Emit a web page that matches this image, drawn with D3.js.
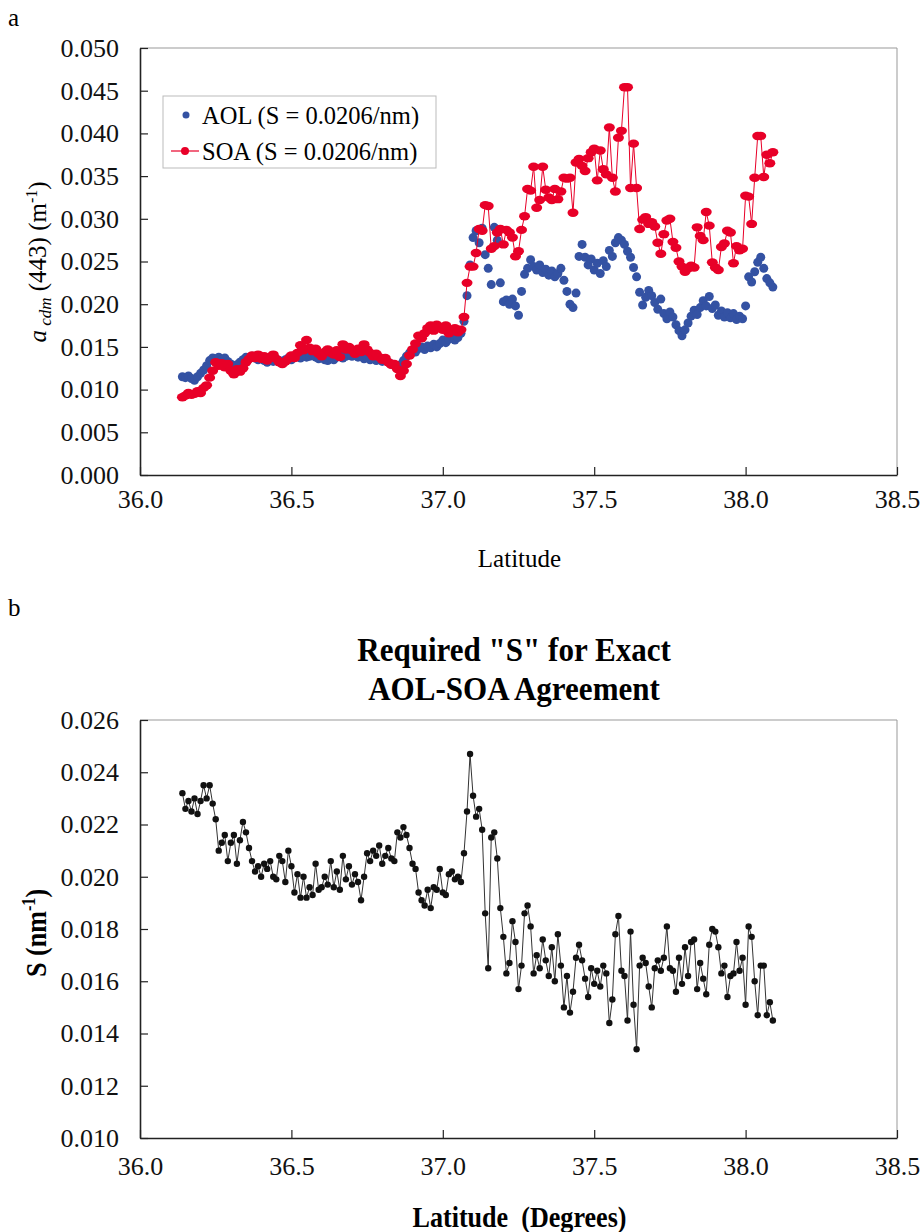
<!DOCTYPE html>
<html>
<head>
<meta charset="utf-8">
<script src="https://cdn.jsdelivr.net/npm/d3@7"></script>
<style>
   body { margin: 0; background: #fff; }
   svg, svg text { font-family: 'Liberation Serif', 'Times New Roman', serif; }
</style>
</head>
<body>
<script>
// latitude of each sample (degrees N)
const latitude = [
   36.14,36.15,36.16,36.17,36.18,36.19,36.20,36.21,36.22,36.23,
   36.24,36.25,36.26,36.27,36.28,36.29,36.30,36.31,36.32,36.33,
   36.34,36.35,36.36,36.37,36.38,36.39,36.40,36.41,36.42,36.43,
   36.44,36.45,36.46,36.47,36.48,36.49,36.50,36.51,36.52,36.53,
   36.54,36.55,36.56,36.57,36.58,36.59,36.60,36.61,36.62,36.63,
   36.64,36.65,36.66,36.67,36.68,36.69,36.70,36.71,36.72,36.73,
   36.74,36.75,36.76,36.77,36.78,36.79,36.80,36.81,36.82,36.83,
   36.84,36.85,36.86,36.87,36.88,36.89,36.90,36.91,36.92,36.93,
   36.94,36.95,36.96,36.97,36.98,36.99,37.00,37.01,37.02,37.03,
   37.04,37.05,37.06,37.07,37.08,37.09,37.10,37.11,37.12,37.13,
   37.14,37.15,37.16,37.17,37.18,37.19,37.20,37.21,37.22,37.23,
   37.24,37.25,37.26,37.27,37.28,37.29,37.30,37.31,37.32,37.33,
   37.34,37.35,37.36,37.37,37.38,37.39,37.40,37.41,37.42,37.43,
   37.44,37.45,37.46,37.47,37.48,37.49,37.50,37.51,37.52,37.53,
   37.54,37.55,37.56,37.57,37.58,37.59,37.60,37.61,37.62,37.63,
   37.64,37.65,37.66,37.67,37.68,37.69,37.70,37.71,37.72,37.73,
   37.74,37.75,37.76,37.77,37.78,37.79,37.80,37.81,37.82,37.83,
   37.84,37.85,37.86,37.87,37.88,37.89,37.90,37.91,37.92,37.93,
   37.94,37.95,37.96,37.97,37.98,37.99,38.00,38.01,38.02,38.03,
   38.04,38.05,38.06,38.07,38.08,38.09
];

// a_cdm(443) from AOL, in 1e-3 m^-1
const aolValues = [
   11.5,11.4,11.6,11.3,11.1,11.5,11.9,12.3,12.8,13.4,
   13.7,13.6,13.8,13.5,13.7,13.3,13.0,12.8,12.9,13.2,
   13.5,13.8,13.6,13.9,13.7,13.5,13.7,13.4,13.2,13.4,
   13.3,13.6,13.4,13.2,13.5,13.7,13.5,13.8,13.9,13.7,
   14.0,13.8,13.9,14.1,13.8,13.6,13.9,13.5,13.4,13.7,
   13.5,13.8,14.0,13.7,13.9,14.2,13.9,14.1,13.8,14.0,
   13.6,13.8,13.5,13.7,13.4,13.6,13.3,13.5,13.2,13.0,
   12.8,12.6,12.9,13.4,13.9,14.3,14.6,14.4,14.8,15.0,
   14.7,15.1,14.9,15.3,15.0,15.4,15.8,15.5,15.9,16.2,
   15.8,16.1,16.6,18.0,21.0,24.6,27.8,28.6,27.2,28.9,
   25.8,24.2,22.3,29.0,27.5,22.5,20.3,20.5,20.0,20.6,
   19.8,18.7,21.5,23.5,24.2,25.2,24.4,24.0,24.6,23.7,
   24.1,23.4,23.9,23.2,23.6,24.2,22.8,21.5,20.0,19.6,
   21.3,25.6,27.0,25.5,24.6,25.3,24.0,24.8,23.6,25.1,
   24.4,26.3,25.6,27.2,27.8,27.5,27.0,26.2,25.5,24.3,
   23.2,21.4,19.9,20.8,21.6,21.0,20.2,19.4,20.6,18.9,
   18.3,19.1,18.5,17.6,16.9,16.3,17.0,17.8,18.6,19.3,
   18.8,19.6,20.4,19.8,20.9,19.5,19.9,18.7,19.2,18.5,
   19.0,18.4,18.9,18.2,18.6,18.3,19.8,23.2,22.6,23.8,
   24.9,25.5,24.2,23.0,22.5,22.0
];

// a_cdm(443) from SOA, in 1e-3 m^-1
const soaValues = [
   9.1,9.3,9.6,9.4,9.5,9.8,9.6,10.2,10.5,11.4,
   12.2,13.2,12.8,13.1,12.6,13.0,12.2,11.8,12.4,12.1,
   12.5,13.2,13.6,14.0,13.7,14.1,13.6,13.9,13.4,13.8,
   14.1,13.6,13.2,13.0,13.3,13.6,14.0,13.7,14.3,15.2,
   14.6,15.8,14.9,14.5,14.8,14.2,13.9,14.4,14.7,14.3,
   14.1,14.6,13.8,15.3,14.7,15.0,14.6,14.2,14.8,14.4,
   15.3,14.7,14.3,13.9,14.2,13.8,13.5,13.7,13.2,12.9,
   13.0,12.4,11.6,12.2,13.0,14.0,14.7,15.4,16.3,16.0,
   16.6,17.2,17.5,16.9,17.6,17.3,17.0,17.5,16.6,16.9,
   17.2,16.7,17.0,18.5,22.5,24.4,24.4,26.0,28.8,28.6,
   31.6,31.5,26.5,26.8,28.4,28.8,27.0,28.7,28.4,27.8,
   25.6,26.2,28.7,30.3,33.5,33.3,36.1,31.3,32.2,36.1,
   33.4,32.5,32.2,33.5,32.3,33.2,34.8,34.7,34.8,30.7,
   36.6,37.0,36.2,35.6,37.1,37.8,38.2,34.5,38.0,35.8,
   35.2,40.7,34.8,33.2,39.5,40.3,45.4,45.4,33.6,38.8,
   33.6,28.8,29.9,30.2,29.4,29.6,29.1,27.2,25.9,28.2,
   29.8,30.0,27.3,26.6,25.0,24.4,23.8,24.2,24.5,24.3,
   29.0,28.0,27.5,30.8,29.2,24.9,24.3,24.0,26.7,27.1,
   28.6,28.4,24.8,26.8,26.3,26.5,32.7,32.6,29.4,34.8,
   39.7,39.7,34.9,37.5,36.5,37.8
];

// required S, in 1e-3 nm^-1
const requiredS = [
   23.2,22.6,22.9,22.5,23.0,22.4,22.9,23.5,23.0,23.5,
   22.8,22.2,21.0,21.3,21.6,20.6,21.3,21.6,20.5,21.4,
   22.1,21.7,21.1,20.6,20.2,20.4,20.0,20.5,20.3,20.6,
   20.0,19.9,20.8,20.6,19.8,21.0,20.4,19.4,20.1,19.2,
   20.0,19.2,19.6,19.3,20.5,19.5,19.6,20.0,19.7,20.6,
   19.6,20.2,19.5,20.8,19.9,20.4,19.7,20.1,19.8,19.1,
   20.0,20.9,20.6,21.0,20.8,21.2,20.5,20.8,21.1,20.7,
   20.6,21.7,21.5,21.9,21.6,21.1,20.5,20.3,19.4,19.1,
   18.9,19.5,18.8,19.6,19.5,20.3,19.4,19.3,20.1,20.2,
   19.9,20.0,19.8,20.9,22.5,24.7,23.1,22.3,22.6,21.8,
   18.6,16.5,21.5,21.7,20.7,18.8,17.7,16.3,16.7,18.3,
   17.5,15.7,16.6,18.6,18.9,18.1,16.3,17.0,16.5,17.6,
   16.8,16.2,17.3,16.0,17.8,16.6,15.0,16.2,14.8,15.6,
   16.9,17.4,16.8,16.1,15.4,16.5,15.9,16.4,15.8,16.6,
   16.3,14.4,15.3,17.8,18.5,16.4,16.2,14.5,17.9,15.1,
   13.4,16.6,16.9,16.7,15.8,15.0,16.5,16.8,16.4,16.9,
   18.1,16.5,16.4,15.6,16.9,15.9,17.3,16.2,17.5,17.6,
   15.7,16.7,16.1,15.5,17.4,18.0,17.9,17.3,16.3,16.6,
   15.4,16.2,16.3,17.5,16.4,16.9,15.1,18.1,17.7,16.0,
   14.7,16.6,16.6,14.7,15.2,14.5
];

const xTickValues = [36.0, 36.5, 37.0, 37.5, 38.0, 38.5];
const yTicksA = [0, 0.005, 0.010, 0.015, 0.020, 0.025, 0.030, 0.035, 0.040, 0.045, 0.050];
const yTicksB = [0.010, 0.012, 0.014, 0.016, 0.018, 0.020, 0.022, 0.024, 0.026];
const legendLabels = ['AOL (S = 0.0206/nm)', 'SOA (S = 0.0206/nm)'];
const titleLines = ['Required "S" for Exact', 'AOL-SOA Agreement'];

const colors = {
   aol: 'rgb(52,82,163)',
   soa: 'rgb(232,0,40)',
   s: '#111'
};
const SERIF = "'Liberation Serif', 'Times New Roman', serif";

const svg = d3.select('body').append('svg')
   .attr('width', 922)
   .attr('height', 1232)
   .attr('font-family', SERIF);

function toPoints(values) {
   return values.map((v, i) => ({lat: latitude[i], v: v / 1000}));
}

function drawFrame(box, yTicks, xPad) {
   let x = d3.scaleLinear().domain([36, 38.5]).range([box.left, box.right]);
   let y = d3.scaleLinear().domain(d3.extent(yTicks)).range([box.bottom, box.top]);

   // light top/right border
   svg.append('path')
      .attr('d', `M${box.left},${box.top}H${box.right}V${box.bottom}`)
      .attr('fill', 'none')
      .attr('stroke', '#999')
      .attr('stroke-width', 1);

   let yAxis = svg.append('g')
      .attr('transform', `translate(${box.left},0)`)
      .call(d3.axisLeft(y).tickValues(yTicks).tickFormat(d3.format('.3f'))
         .tickSize(-8).tickSizeOuter(0).tickPadding(21));
   let xAxis = svg.append('g')
      .attr('transform', `translate(0,${box.bottom})`)
      .call(d3.axisBottom(x).tickValues(xTickValues).tickFormat(d3.format('.1f'))
         .tickSize(-8).tickSizeOuter(0).tickPadding(xPad));

   [xAxis, yAxis].forEach(a => {
      a.attr('font-family', SERIF).attr('font-size', 26);
      a.select('.domain').attr('stroke', '#222').attr('stroke-width', 1.6);
      a.selectAll('.tick line').attr('stroke', '#222').attr('stroke-width', 1.2);
      a.selectAll('.tick text').attr('fill', '#111');
   });
   return {x, y};
}

// ---------- panel a ----------
const boxA = {left: 140, right: 897, top: 48, bottom: 475};
const scA = drawFrame(boxA, yTicksA, 15);

svg.append('text').attr('x', 8).attr('y', 26).attr('font-size', 25).text('a');

let aolPts = toPoints(aolValues), soaPts = toPoints(soaValues);

svg.append('g').selectAll('circle')
   .data(aolPts)
   .join('circle')
   .attr('cx', d => scA.x(d.lat))
   .attr('cy', d => scA.y(d.v))
   .attr('r', 4.5)
   .attr('fill', colors.aol);

svg.append('path')
   .datum(soaPts)
   .attr('fill', 'none')
   .attr('stroke', colors.soa)
   .attr('stroke-width', 1)
   .attr('d', d3.line().x(d => scA.x(d.lat)).y(d => scA.y(d.v)));

svg.append('g').selectAll('ellipse')
   .data(soaPts)
   .join('ellipse')
   .attr('cx', d => scA.x(d.lat))
   .attr('cy', d => scA.y(d.v))
   .attr('rx', 5.5)
   .attr('ry', 4.2)
   .attr('fill', colors.soa);

// legend
let legend = svg.append('g').attr('transform', 'translate(163,96)');
legend.append('rect')
   .attr('width', 273).attr('height', 72)
   .attr('fill', '#fff').attr('stroke', '#bbb').attr('stroke-width', 1);
legend.append('circle').attr('cx', 23).attr('cy', 19).attr('r', 3.5).attr('fill', colors.aol);
legend.append('line').attr('x1', 8).attr('x2', 36).attr('y1', 55).attr('y2', 55)
   .attr('stroke', colors.soa).attr('stroke-width', 1.2);
legend.append('circle').attr('cx', 22).attr('cy', 55).attr('r', 4).attr('fill', colors.soa);
legend.selectAll('text.lab')
   .data(legendLabels)
   .join('text')
   .attr('class', 'lab')
   .attr('x', 39)
   .attr('y', (d, i) => 28 + i * 36)
   .attr('font-size', 24.5)
   .text(d => d);

svg.append('text')
   .attr('x', (boxA.left + boxA.right) / 2 + 1)
   .attr('y', 567)
   .attr('text-anchor', 'middle')
   .attr('font-size', 25)
   .text('Latitude');

let yLabA = svg.append('text')
   .attr('transform', 'translate(46,262) rotate(-90)')
   .attr('text-anchor', 'middle')
   .attr('font-size', 25);
yLabA.append('tspan').attr('font-style', 'italic').text('a');
yLabA.append('tspan').attr('font-style', 'italic').attr('font-size', 17)
   .attr('dy', 5).text(' cdm');
yLabA.append('tspan').attr('dy', -5).text(' (443)  (m');
yLabA.append('tspan').attr('font-size', 16).attr('dy', -9).text('-1');
yLabA.append('tspan').attr('dy', 9).text(')');

// ---------- panel b ----------
const boxB = {left: 140, right: 897, top: 720, bottom: 1138};
const scB = drawFrame(boxB, yTicksB, 19);

svg.append('text').attr('x', 8).attr('y', 616).attr('font-size', 25).text('b');

svg.append('g').selectAll('text')
   .data(titleLines)
   .join('text')
   .attr('transform', (d, i) => `translate(514,${661 + i * 39}) scale(0.9,1)`)
   .attr('text-anchor', 'middle')
   .attr('font-size', 34.5)
   .attr('font-weight', 'bold')
   .text(d => d);

let sPts = toPoints(requiredS);
svg.append('path')
   .datum(sPts)
   .attr('fill', 'none')
   .attr('stroke', '#333')
   .attr('stroke-width', 1)
   .attr('d', d3.line().x(d => scB.x(d.lat)).y(d => scB.y(d.v)));
svg.append('g').selectAll('circle')
   .data(sPts)
   .join('circle')
   .attr('cx', d => scB.x(d.lat))
   .attr('cy', d => scB.y(d.v))
   .attr('r', 3.2)
   .attr('fill', colors.s);

svg.append('text')
   .attr('transform', `translate(${(boxB.left + boxB.right) / 2 + 1},1227) scale(0.9,1)`)
   .attr('text-anchor', 'middle')
   .attr('font-size', 29)
   .attr('font-weight', 'bold')
   .attr('xml:space', 'preserve')
   .text('Latitude  (Degrees)');

let yLabB = svg.append('text')
   .attr('transform', 'translate(46,933) rotate(-90) scale(0.9,1)')
   .attr('text-anchor', 'middle')
   .attr('font-size', 29)
   .attr('font-weight', 'bold');
yLabB.append('tspan').text('S  (nm');
yLabB.append('tspan').attr('font-size', 18).attr('dy', -11).text('-1');
yLabB.append('tspan').attr('dy', 11).text(')');
</script>
</body>
</html>
